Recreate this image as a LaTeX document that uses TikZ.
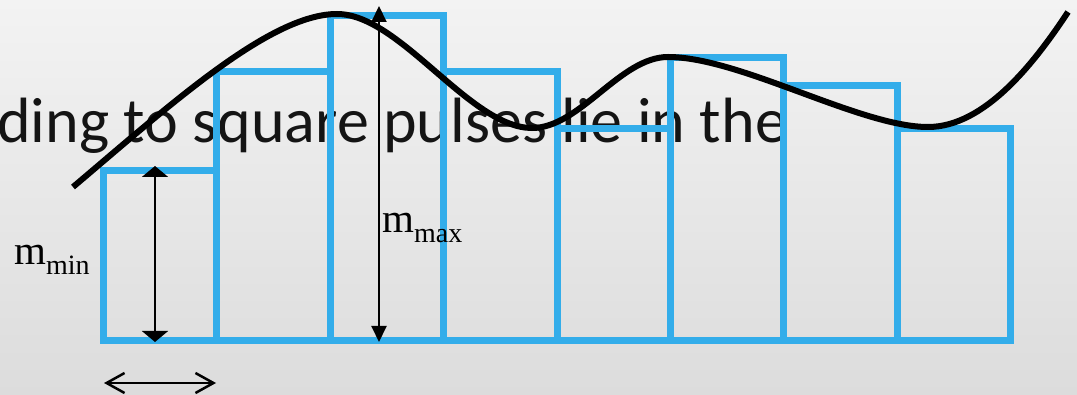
\documentclass[tikz,border=0pt]{standalone}
\usepackage{fontspec}
\usetikzlibrary{arrows.meta}
\setmainfont{Carlito}
\newfontfamily\tnr{Liberation Serif}
\definecolor{barblue}{RGB}{51,173,234}
\definecolor{bgtop}{RGB}{243,243,243}
\definecolor{bgbot}{RGB}{220,220,220}
\definecolor{txtcol}{RGB}{20,20,20}
\tikzset{
  bar/.style={draw=barblue, line width=7pt, line join=miter},
  curvestyle/.style={draw=black, line width=6pt, line cap=butt},
  minarrow/.style={draw=black, line width=2pt, {Triangle[length=11pt,width=26pt]}-{Triangle[length=11pt,width=26pt]}},
  maxarrow/.style={draw=black, line width=2pt, {Triangle[length=16pt,width=15pt]}-{Triangle[length=16pt,width=15pt]}},
  widtharrow/.style={draw=black, line width=2.5pt, {Straight Barb[length=18pt,width=20pt]}-{Straight Barb[length=18pt,width=20pt]}},
  lbl/.style={inner sep=0pt, anchor=base west, text=black, font=\tnr\fontsize{41}{41}\selectfont},
}
\begin{document}
\begin{tikzpicture}[x=1pt,y=-1pt]
\useasboundingbox (0,0) rectangle (1077,395);
\shade[top color=bgtop, bottom color=bgbot] (0,0) rectangle (1077,395);
% slide text
\begin{scope}
\clip (0,0) rectangle (1077,395);
\node[inner sep=0pt, anchor=base west, text=txtcol, font=\fontsize{64}{64}\selectfont] (title) at (-3,143) {ding to square pulses lie in the};
\end{scope}
% bars
\foreach \xa/\xb/\yt [count=\i] in {103.5/216.6/171, 216.6/330/72, 330/443.5/15.5, 443.5/557/72, 557/670/129, 670/783/58, 783/897/86, 897/1010/129}{
  \draw[bar] (\xa,341) rectangle (\xb,\yt);
}
% curve
\coordinate (c0) at (73,187);
\coordinate (c1) at (337,14);
\coordinate (c2) at (532,128);
\coordinate (c3) at (668,57);
\coordinate (c4) at (928,127);
\coordinate (c5) at (1068,12);
\draw[curvestyle] (c0) .. controls (170,105) and (270,14) .. (c1)
  .. controls (400,14) and (470,128) .. (c2)
  .. controls (580,128) and (620,57) .. (c3)
  .. controls (740,57) and (860,127) .. (c4)
  .. controls (985,127) and (1035,62) .. (c5);
% arrows
\coordinate (minTop) at (155,166);
\coordinate (minBot) at (155,342);
\coordinate (maxTop) at (379,6);
\coordinate (maxBot) at (379,342);
\coordinate (wL) at (104,383);
\coordinate (wR) at (216,383);
\draw[minarrow] (minTop) -- (minBot);
\draw[maxarrow] (maxTop) -- (maxBot);
\draw[widtharrow] (wL) -- (wR);
% labels
\node[lbl] (mmin) at (14,265) {m\raisebox{-10pt}{\fontsize{28}{28}\selectfont min}};
\node[lbl] (mmax) at (382,233) {m\raisebox{-10pt}{\fontsize{28}{28}\selectfont max}};
\end{tikzpicture}
\end{document}
